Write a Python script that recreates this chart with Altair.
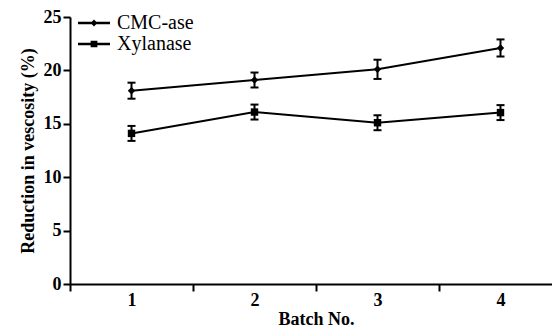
import altair as alt
import pandas as pd

batches = [1, 2, 3, 4]
series_names = ["CMC-ase", "Xylanase"]
cmc_mean = [18.1, 19.1, 20.1, 22.1]
cmc_err = [0.75, 0.7, 0.9, 0.8]
xyl_mean = [14.1, 16.1, 15.1, 16.05]
xyl_err = [0.7, 0.7, 0.7, 0.7]
y_ticks = [0, 5, 10, 15, 20, 25]

rows = []
for name, means, errs in [("CMC-ase", cmc_mean, cmc_err), ("Xylanase", xyl_mean, xyl_err)]:
    for b, m, e in zip(batches, means, errs):
        rows.append({"batch": b, "series": name, "mean": m, "lo": m - e, "hi": m + e})
df = pd.DataFrame(rows)

FONT = "Liberation Serif"
BAND = 123.0
W, H = 482, 267

x_scale = alt.Scale(domain=[0.5, 0.5 + W / BAND], nice=False, zero=False)
y_scale = alt.Scale(domain=[0, 25], nice=False, zero=True)

x_enc = alt.X(
    "batch:Q", scale=x_scale,
    axis=alt.Axis(values=batches, tickOffset=-BAND / 2, labelOffset=BAND / 2,
                  title="Batch No.", labelFlush=False, labelOverlap=False,
                  labelPadding=0, titlePadding=1, titleX=246),
)
y_axis = alt.Axis(values=y_ticks, title="Reduction in vescosity (%)",
                  labelPadding=2, titlePadding=6)

base = alt.Chart(df)

line = base.mark_line(color="black", strokeWidth=2).encode(
    x=x_enc, y=alt.Y("mean:Q", scale=y_scale, axis=y_axis), detail="series:N"
)
rules = base.mark_rule(color="black", strokeWidth=2).encode(
    x=x_enc, y=alt.Y("lo:Q", scale=y_scale, axis=y_axis), y2="hi:Q"
)
tick_lo = base.mark_tick(color="black", orient="horizontal", size=8, thickness=2, opacity=1).encode(
    x=x_enc, y=alt.Y("lo:Q", scale=y_scale, axis=y_axis)
)
tick_hi = base.mark_tick(color="black", orient="horizontal", size=8, thickness=2, opacity=1).encode(
    x=x_enc, y=alt.Y("hi:Q", scale=y_scale, axis=y_axis)
)
points = base.mark_point(filled=True, color="black", size=55, opacity=1).encode(
    x=x_enc, y=alt.Y("mean:Q", scale=y_scale, axis=y_axis),
    shape=alt.Shape("series:N", scale=alt.Scale(domain=series_names, range=["diamond", "square"]), legend=None),
)

legend_paths = [
    "M-2,-0.16H2V0.16H-2ZM0,-0.45L0.42,0L0,0.45L-0.42,0Z",
    "M-2,-0.16H2V0.16H-2ZM-0.42,-0.42H0.42V0.42H-0.42Z",
]
legend_layer = base.transform_filter("false").mark_point(filled=True, color="black", opacity=1).encode(
    x=x_enc, y=alt.Y("mean:Q", scale=y_scale, axis=y_axis),
    shape=alt.Shape(
        "series:N",
        scale=alt.Scale(domain=series_names, range=legend_paths),
        legend=alt.Legend(
            title=None, orient="none", legendX=14, legendY=-4,
            labelFont=FONT, labelFontSize=20, labelColor="black", labelOffset=13,
            symbolSize=256, symbolFillColor="black", symbolStrokeColor="black",
            symbolStrokeWidth=0, symbolOpacity=1, padding=0, rowPadding=1,
        ),
    ),
)

chart = (
    alt.layer(line, rules, tick_lo, tick_hi, points, legend_layer)
    .resolve_scale(shape="independent")
    .properties(
        width=W, height=H,
        autosize=alt.AutoSizeParams(type="none"),
        padding={"left": 62, "top": 9, "right": 0, "bottom": 44},
        background="white",
    )
    .configure_view(stroke=None)
    .configure_axis(
        domainColor="black", domainWidth=2, tickColor="black", tickWidth=2, tickSize=7,
        labelFont=FONT, labelFontSize=18, labelFontWeight="bold", labelColor="black",
        titleFont=FONT, titleFontSize=18, titleFontWeight="bold", titleColor="black",
        grid=False,
    )
    .configure_legend(labelFont=FONT, labelFontSize=20, labelColor="black")
)

chart.save("out.html", embed_options={"renderer": "svg", "actions": False})
